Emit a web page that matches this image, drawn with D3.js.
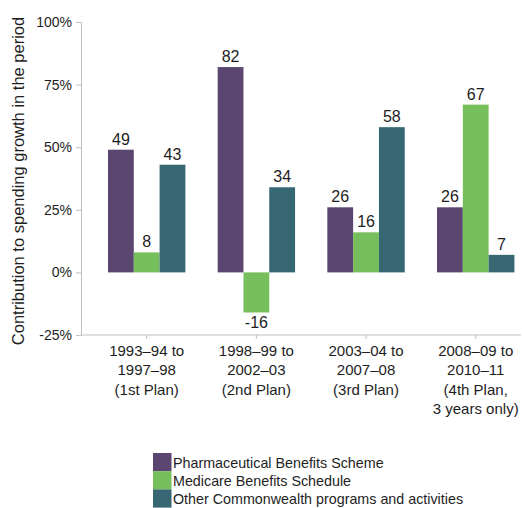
<!DOCTYPE html>
<html>
<head>
<meta charset="utf-8">
<script src="https://cdn.jsdelivr.net/npm/d3@7/dist/d3.min.js"></script>
<style>
  html, body { margin: 0; padding: 0; background: #fff; }
  svg { display: block; font-family: "Liberation Sans", Arial, sans-serif; }
</style>
</head>
<body>
<svg id="chart" width="522" height="508"></svg>
<script>
// ---- data ----
const categories = ["1st", "2nd", "3rd", "4th"];
const categoryLabels = [
  ["1993\u201394 to", "1997\u201398", "(1st Plan)"],
  ["1998\u201399 to", "2002\u201303", "(2nd Plan)"],
  ["2003\u201304 to", "2007\u201308", "(3rd Plan)"],
  ["2008\u201309 to", "2010\u201311", "(4th Plan,", "3 years only)"]
];
const seriesNames = [
  "Pharmaceutical Benefits Scheme",
  "Medicare Benefits Schedule",
  "Other Commonwealth programs and activities"
];
const pbsValues = [49, 82, 26, 26];
const mbsValues = [8, -16, 16, 67];
const otherValues = [43, 34, 58, 7];
const yTicks = [-25, 0, 25, 50, 75, 100];
const colors = ["#5a4671", "#77bf5d", "#376773"];
const yTitle = "Contribution to spending growth in the period";

const seriesValues = [pbsValues, mbsValues, otherValues];

// ---- layout ----
const svg = d3.select("#chart");
const axisLeftX = 81, axisRightX = 521;
const yTop = 22, yBottom = 335;

const y = d3.scaleLinear().domain([-25, 100]).range([yBottom, yTop]);
const x = d3.scaleBand().domain(categories).range([91.85, 530.55]).paddingInner(0).paddingOuter(0);
const groupW = 77.4;
const xInner = d3.scaleBand().domain(seriesNames).range([0, groupW]);

const axisColor = "#bfbfbf";
const textColor = "#1e1e1e";

// y axis
const yAxis = d3.axisLeft(y).tickValues(yTicks).tickSize(5).tickPadding(4)
  .tickFormat(d => d + "%");
const gy = svg.append("g").attr("transform", `translate(${axisLeftX},0)`).call(yAxis);
gy.select(".domain").attr("stroke", axisColor);
gy.selectAll(".tick line").attr("stroke", axisColor);
gy.selectAll(".tick text").attr("fill", textColor).style("font-size", "14px")
  .attr("font-family", "Liberation Sans, Arial, sans-serif");

// x axis (line at bottom)
svg.append("line").attr("x1", axisLeftX).attr("x2", axisRightX)
  .attr("y1", yBottom).attr("y2", yBottom).attr("stroke", axisColor);
const xAxis = d3.axisBottom(x).tickSize(4).tickFormat("");
const gx = svg.append("g").attr("transform", `translate(0,${yBottom})`).call(xAxis);
gx.select(".domain").remove();
gx.selectAll(".tick line").attr("stroke", axisColor);

// category labels
categories.forEach((c, i) => {
  const t = svg.append("text")
    .attr("x", x(c) + x.bandwidth() / 2)
    .attr("y", yBottom + 20.7)
    .attr("text-anchor", "middle")
    .attr("fill", textColor)
    .style("font-size", "15px");
  categoryLabels[i].forEach((line, j) => {
    t.append("tspan").attr("x", x(c) + x.bandwidth() / 2)
      .attr("y", yBottom + 20.7 + j * 19.4).text(line);
  });
});

// bars
seriesNames.forEach((s, si) => {
  const g = svg.append("g");
  categories.forEach((c, ci) => {
    const v = seriesValues[si][ci];
    const bx = x(c) + x.bandwidth() / 2 - groupW / 2 + xInner(s);
    g.append("rect")
      .attr("x", bx)
      .attr("y", y(Math.max(0, v)))
      .attr("width", xInner.bandwidth())
      .attr("height", Math.abs(y(v) - y(0)))
      .attr("fill", colors[si]);
    g.append("text")
      .attr("x", bx + xInner.bandwidth() / 2)
      .attr("y", v >= 0 ? y(v) - 5 : y(v) + 16)
      .attr("text-anchor", "middle")
      .attr("fill", textColor)
      .style("font-size", "16px")
      .text(v);
  });
});

// y title
svg.append("text")
  .attr("transform", "translate(24,181) rotate(-90)")
  .attr("text-anchor", "middle")
  .attr("fill", textColor)
  .style("font-size", "16.5px")
  .text(yTitle);

// legend
const legX = 153, legY = 453, swW = 18.5, swH = 18.2;
seriesNames.forEach((s, i) => {
  svg.append("rect").attr("x", legX).attr("y", legY + i * swH)
    .attr("width", swW).attr("height", swH).attr("fill", colors[i]);
  svg.append("text").attr("x", legX + swW + 1.5).attr("y", legY + i * swH + swH / 2 + 5.5)
    .attr("fill", textColor).style("font-size", "14.3px").text(s);
});
</script>
</body>
</html>
